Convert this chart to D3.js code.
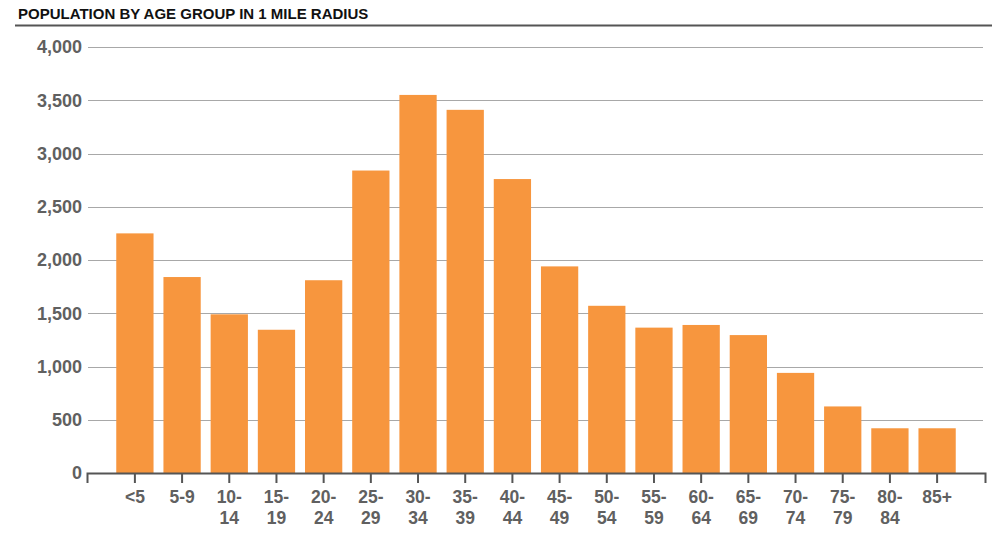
<!DOCTYPE html>
<html><head><meta charset="utf-8">
<script src="https://cdn.jsdelivr.net/npm/d3@7"></script>
<style>body{margin:0;background:#fff}svg{display:block}</style>
</head><body>
<svg id="c" width="993" height="538"></svg>
<script>
const title = "POPULATION BY AGE GROUP IN 1 MILE RADIUS";
const categories = ["<5","5-9","10-14","15-19","20-24","25-29","30-34","35-39","40-44","45-49","50-54","55-59","60-64","65-69","70-74","75-79","80-84","85+"];
const population = [2250,1840,1490,1345,1810,2840,3550,3410,2760,1940,1570,1365,1390,1295,940,625,420,420];
const yTicks = [0,500,1000,1500,2000,2500,3000,3500,4000];

const svg = d3.select("#c");
const font = "'Liberation Sans', Arial, sans-serif";

svg.append("text").attr("x",18).attr("y",19).attr("font-family",font)
  .attr("font-weight","bold").attr("font-size",15).attr("fill","#111").text(title);
svg.append("line").attr("x1",15).attr("x2",992).attr("y1",25.5).attr("y2",25.5)
  .attr("stroke","#555").attr("stroke-width",2);

const x = d3.scaleBand().domain(categories).range([87,985]).paddingInner(0.21).paddingOuter(0.62);
const y = d3.scaleLinear().domain([0,4000]).range([473,47]);

// gridlines
svg.append("g").selectAll("line").data(yTicks.filter(d=>d>0)).join("line")
  .attr("x1",88).attr("x2",983).attr("y1",d=>Math.round(y(d))+0.5).attr("y2",d=>Math.round(y(d))+0.5)
  .attr("stroke","#a8a8a8").attr("stroke-width",1);

// y labels
svg.append("g").selectAll("text").data(yTicks).join("text")
  .attr("x",82).attr("y",d=>y(d)).attr("dy","0.36em").attr("text-anchor","end")
  .attr("font-family",font).attr("font-weight","bold").attr("font-size",18).attr("fill","#606060")
  .text(d=>d3.format(",")(d));

// bars
svg.append("g").selectAll("rect").data(population).join("rect")
  .attr("x",(d,i)=>x(categories[i])).attr("width",x.bandwidth())
  .attr("y",d=>y(d)).attr("height",d=>y(0)-y(d)).attr("fill","#f7963e");

// x axis
const ax = svg.append("g").attr("transform","translate(0,473)")
  .call(d3.axisBottom(x).tickSize(10).tickSizeOuter(10).tickFormat(""));
ax.select(".domain").attr("stroke","#555").attr("stroke-width",2);
ax.selectAll(".tick line").attr("stroke","#555").attr("stroke-width",2);

// x labels (two lines)
const lbl = svg.append("g").selectAll("text").data(categories).join("text")
  .attr("x",d=>x(d)+x.bandwidth()/2).attr("y",503).attr("text-anchor","middle")
  .attr("font-family",font).attr("font-weight","bold").attr("font-size",17.5).attr("fill","#606060");
lbl.each(function(d){
  const m = d.match(/^(\d+)-(\d+)$/);
  const t = d3.select(this);
  if (m && d !== "5-9") {
    t.append("tspan").attr("x",x(d)+x.bandwidth()/2).text(m[1]+"-");
    t.append("tspan").attr("x",x(d)+x.bandwidth()/2).attr("dy",21).text(m[2]);
  } else t.text(d);
});
</script>
</body></html>
